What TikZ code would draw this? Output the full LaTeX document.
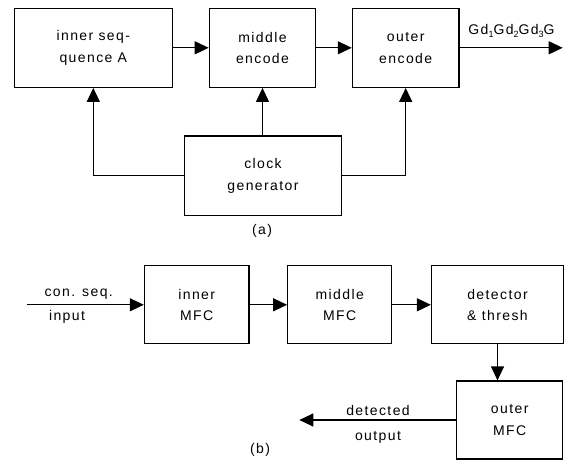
\documentclass[tikz,border=0pt]{standalone}
\usepackage{fontspec}
\setmainfont{Liberation Sans}[LetterSpace=10]
\usetikzlibrary{arrows.meta}
\tikzset{
  blk/.style={draw, line width=1.2pt, rectangle, inner sep=0pt, align=center,
     font=\fontsize{14}{21.5}\selectfont},
  arr/.style={line width=1.2pt, -{Triangle[length=14pt,width=13pt]}},
  lbl/.style={inner sep=0pt, anchor=base, font=\fontsize{14}{17}\selectfont},
}
\begin{document}
\begin{tikzpicture}[x=1pt,y=-1pt]
\useasboundingbox (0,0) rectangle (567,460);
% (a)
\node[blk, minimum width=158pt, minimum height=79pt] (inner) at (93.3,47.8) {inner seq-\\quence A};
\node[blk, minimum width=106.4pt, minimum height=79pt] (middle) at (262.5,47.8) {middle\\encode};
\node[blk, minimum width=106.7pt, minimum height=79pt] (outer) at (405.7,47.8) {outer\\encode};
\node[blk, minimum width=157pt, minimum height=79.3pt] (clock) at (263,175.7) {clock\\generator};
\coordinate (gout) at (562.7,47.8);
\draw[arr] (inner) -- (middle);
\draw[arr] (middle) -- (outer);
\draw[arr] (outer) -- (gout);
\node[lbl] (gd) at (511.5,35) {Gd\raisebox{-2.5pt}{\fontsize{9}{9}\selectfont 1}Gd\raisebox{-2.5pt}{\fontsize{9}{9}\selectfont 2}Gd\raisebox{-2.5pt}{\fontsize{9}{9}\selectfont 3}G};
\draw[arr] (clock.west) -| (inner.south);
\draw[arr] (middle.south |- clock.north) -- (middle.south);
\draw[arr] (clock.east) -| (outer.south);
\node[lbl] (capa) at (262,234) {(a)};
% (b)
\node[blk, minimum width=104.6pt, minimum height=78pt] (imfc) at (196.7,304.8) {inner\\MFC};
\node[blk, minimum width=104pt, minimum height=78pt] (mmfc) at (339.7,304.8) {middle\\MFC};
\node[blk, minimum width=132pt, minimum height=78pt] (det) at (497.5,304.8) {detector\\\& thresh};
\node[blk, minimum width=106pt, minimum height=78pt] (omfc) at (509.7,420) {outer\\MFC};
\coordinate (in) at (27,304.8);
\coordinate (out) at (299.3,420);
\draw[arr] (in) -- (imfc);
\draw[arr] (imfc) -- (mmfc);
\draw[arr] (mmfc) -- (det);
\draw[arr] (det.south) -- (det.south |- omfc.north);
\draw[arr] (omfc.west) -- (out);
\node[lbl] (cs) at (78.7,296.5) {con. seq.};
\node[lbl] (inp) at (67,320.5) {input};
\node[lbl] (dtd) at (378,415) {detected};
\node[lbl] (op) at (378,440) {output};
\node[lbl] (capb) at (260,453) {(b)};
\end{tikzpicture}
\end{document}
